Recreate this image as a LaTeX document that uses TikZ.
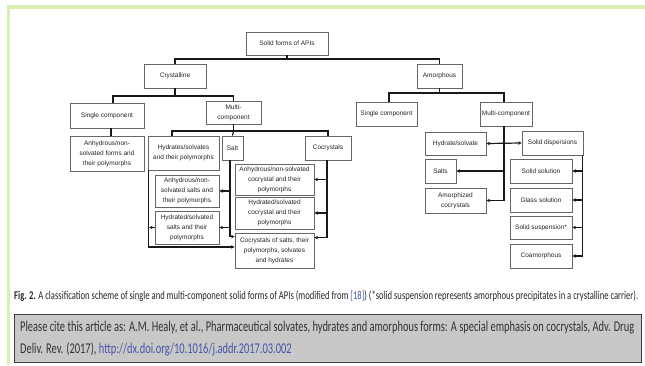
\documentclass[tikz,border=0pt]{standalone}
\usepackage{fontspec}
\setmainfont{Liberation Sans}
\newfontfamily\capfont[FakeStretch=0.72]{Carlito}
\newfontfamily\citefont[FakeStretch=0.7]{Carlito}
\usetikzlibrary{arrows.meta,calc}
\definecolor{framegreen}{RGB}{218,240,178}
\definecolor{linkblue}{RGB}{70,85,165}
\definecolor{citegray}{RGB}{200,200,200}
\newcommand\bx[6]{\node[box,minimum width=#4pt,minimum height=#5pt] (#1) at (#2,#3) {#6};}
\begin{document}
\begin{tikzpicture}[x=1pt,y=-1pt,
 box/.style={draw=black!60,line width=0.8pt,fill=white,align=center,inner sep=0pt,
   font=\fontsize{6.5}{10}\selectfont,text=black!85},
 conn/.style={line width=1.2pt,draw=black!90},
 arr/.style={conn,-{Stealth[length=3.5pt,width=3.5pt]}},
 darr/.style={conn,{Stealth[length=3.5pt,width=3.5pt]}-{Stealth[length=3.5pt,width=3.5pt]}},
]
\useasboundingbox (0,0) rectangle (645,365);
\fill[framegreen] (7,5) rectangle (645,9);
\fill[framegreen] (7,5) rectangle (10,365);

% nodes
\bx{top}{287}{43.5}{82}{23}{Solid forms of APIs}
\bx{cry}{175}{76}{62}{24}{Crystalline}
\bx{amo}{439.5}{76}{45}{24}{Amorphous}
\bx{csc}{107}{115.5}{74}{25}{Single component}
\bx{cmc}{233.5}{112.5}{55}{23}{Multi-\\component}
\bx{asc}{386.5}{114}{61}{24}{Single component}
\bx{amc}{506}{114}{52}{24}{Multi-component}
\bx{canh}{107}{153.5}{74}{35}{Anhydrous/non-\\solvated forms and\\their polymorphs}
\bx{chyd}{183.5}{153}{71}{34}{Hydrates/solvates\\and their polymorphs}
\bx{csalt}{232.5}{148}{21}{24}{Salt}
\bx{ccoc}{328}{148}{46}{24}{Cocrystals}
\bx{sanh}{187}{191}{64}{32}{Anhydrous/non-\\solvated salts and\\their polymorphs}
\bx{shyd}{187}{227.5}{64}{33}{Hydrated/solvated\\salts and their\\polymorphs}
\bx{coanh}{274.5}{179.5}{79}{31}{Anhydrous/non-solvated\\cocrystal and their\\polymorphs}
\bx{cohyd}{274.5}{213}{79}{32}{Hydrated/solvated\\cocrystal and their\\polymorphs}
\bx{cosalt}{274.5}{250.5}{79}{35}{Cocrystals of salts, their\\polymorphs, solvates\\and hydrates}
\bx{ahyd}{455.5}{143.5}{61}{23}{Hydrate/solvate}
\bx{asd}{552.5}{143}{61}{24}{Solid dispersions}
\bx{asalts}{440.5}{171}{31}{24}{Salts}
\bx{aamc}{455.5}{200.5}{61}{25}{Amorphized\\cocrystals}
\bx{ass}{541}{171}{62}{24}{Solid solution}
\bx{ags}{541}{200}{62}{24}{Glass solution}
\bx{asus}{541}{227.5}{62}{23}{Solid suspension*}
\bx{acoam}{541}{256}{62}{24}{Coamorphous}

% connectors: top level
\coordinate (j0) at (287,59);
\draw[conn] (top.south) -- (j0);
\draw[conn] (cry.north) |- (j0) -| (amo.north);
% crystalline
\coordinate (j1) at (175,96);
\draw[conn] (cry.south) -- (j1);
\draw[conn] ($(csc.north)+(6,0)$) |- (j1) -| (cmc.north);
\draw[conn] ($(csc.south)+(4,0)$) -- ($(canh.north)+(4,0)$);
\coordinate (j2) at (233.5,131);
\draw[conn] (cmc.south) -- (j2);
\draw[conn] ($(chyd.north)+(-11.5,0)$) |- (j2) -| (ccoc.north);
\draw[conn] (j2) -- (csalt.north);
% hydrates/solvates branch
\draw[arr] ($(chyd.south west)+(1,0)$) |- ($(cosalt.west)+(0,-3.5)$);
\draw[arr] (shyd.west) -- ++(-5.5,0);
% salt branch
\coordinate (sl) at ($(csalt.south)+(-2.5,0)$);
\draw[arr] (sl) |- ($(cosalt.north west)+(0,4)$);
\draw[arr] (sl |- sanh.east) -- (sanh.east);
\draw[arr] (sl |- shyd.east) -- (shyd.east);
% cocrystal branch
\coordinate (cl) at ($(ccoc.south)+(-1,0)$);
\draw[arr] (cl) |- ($(cosalt.north east)+(0,5)$);
\draw[arr] (cl |- coanh.east) -- (coanh.east);
\draw[arr] (cl |- cohyd.east) -- (cohyd.east);
% amorphous
\coordinate (j3) at (439.5,93);
\draw[conn] (amo.south) -- (j3);
\draw[conn] ($(asc.north)+(2.5,0)$) |- (j3) -| ($(amc.north)+(-2,0)$);
\coordinate (al) at ($(amc.south)+(-2,0)$);
\draw[arr] (al) |- (aamc.east);
\draw[arr] (al |- asalts.east) -- (asalts.east);
\draw[darr] (ahyd.east) -- (asd.west);
\coordinate (sr) at ($(asd.south east)+(-1,0)$);
\draw[arr] (sr) |- (acoam.east);
\draw[arr] (sr |- ass.east) -- (ass.east);
\draw[arr] (sr |- ags.east) -- (ags.east);
\draw[arr] (sr |- asus.east) -- (asus.east);

% caption
\node[anchor=west,inner sep=0pt,text=black!85] (cap) at (14,296.5) {\resizebox{624pt}{!}{\capfont\fontsize{10}{12}\selectfont\textbf{Fig. 2.} A classification scheme of single and multi-component solid forms of APIs (modified from {\color{linkblue}[18]}) (*solid suspension represents amorphous precipitates in a crystalline carrier).}};

% citation box
\node[draw=black!75,line width=1.2pt,fill=citegray,minimum width=627pt,minimum height=48pt,anchor=north west,inner sep=0pt] (cite) at (14,314) {};
\node[anchor=west,inner sep=0pt,text=black!80] (citetext) at (20,338) {\resizebox{614pt}{!}{\citefont\fontsize{11}{16}\selectfont\begin{tabular}{@{}l@{}}Please cite this article as: A.M. Healy, et al., Pharmaceutical solvates, hydrates and amorphous forms: A special emphasis on cocrystals, Adv. Drug\\Deliv. Rev. (2017), {\color{linkblue}http://dx.doi.org/10.1016/j.addr.2017.03.002}\end{tabular}}};
\end{tikzpicture}
\end{document}
